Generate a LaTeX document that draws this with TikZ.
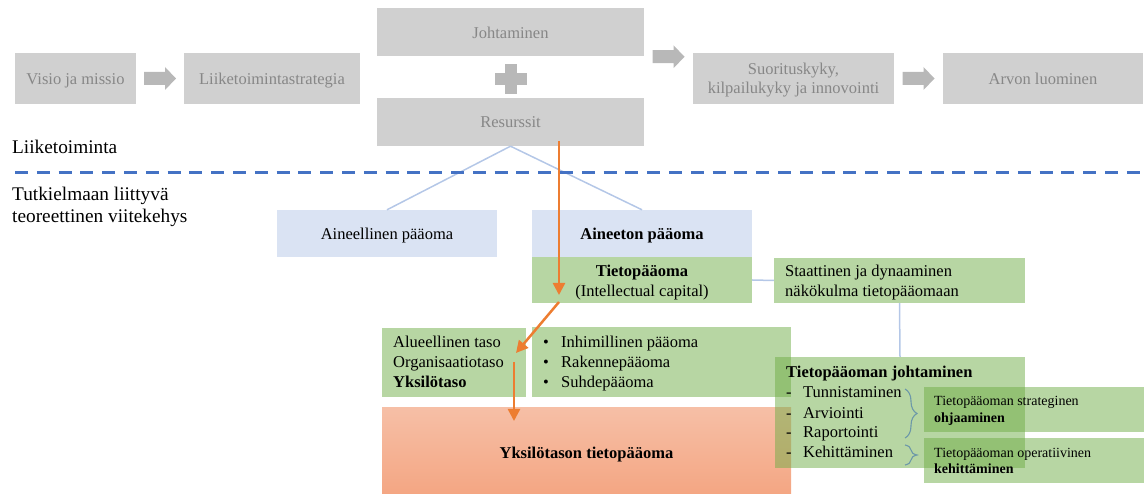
\documentclass[tikz,border=0pt]{standalone}
\usepackage{fontspec}
\setmainfont{Liberation Serif}
\usetikzlibrary{arrows.meta,decorations.pathreplacing,calc}

\definecolor{boxgray}{RGB}{208,208,208}
\definecolor{txtgray}{RGB}{135,135,135}
\definecolor{arrgray}{RGB}{184,184,184}
\definecolor{boxblue}{RGB}{218,227,243}
\definecolor{accgreen}{RGB}{112,173,71}
\definecolor{salmontop}{RGB}{246,191,166}
\definecolor{salmonbot}{RGB}{244,166,131}
\definecolor{accorange}{RGB}{237,125,49}
\definecolor{accblue}{RGB}{68,114,196}
\definecolor{linkblue}{RGB}{180,199,231}
\definecolor{bracecol}{RGB}{108,152,168}

\tikzset{
  blockarrow/.pic={
    \fill[arrgray] (-16,-6.5) -- (5,-6.5) -- (5,-11.5) -- (16,0) -- (5,11.5) -- (5,6.5) -- (-16,6.5) -- cycle;
  },
  plussign/.pic={
    \fill[arrgray] (-16,-6) rectangle (16,6);
    \fill[arrgray] (-6,-15) rectangle (6,15);
  }
}

\begin{document}
\begin{tikzpicture}[x=1pt,y=-1pt,
  box/.style={rectangle, inner sep=0pt, draw=none},
  graybox/.style={box, fill=boxgray},
  bluebox/.style={box, fill=boxblue},
  greenbox/.style={box, fill=accgreen, fill opacity=0.5},
  txt/.style={inner sep=0pt, anchor=base, font=\fontsize{16.5}{20}\selectfont},
  ltxt/.style={txt, anchor=base west},
  graytxt/.style={txt, text=txtgray},
  smalltxt/.style={inner sep=0pt, anchor=base west, font=\fontsize{14}{17}\selectfont},
  sidelabel/.style={inner sep=0pt, anchor=base west, font=\fontsize{19.3}{22}\selectfont},
  link/.style={draw=linkblue, line width=1.5pt},
  orangearrow/.style={draw=accorange, line width=2.5pt, -{Triangle[length=12pt,width=12pt]}},
  sepline/.style={draw=accblue, line width=3pt, dash pattern=on 13pt off 8.8pt},
  bracestyle/.style={draw=bracecol, line width=1.1pt, decorate, decoration={brace, amplitude=12pt}}
]
\useasboundingbox (0,0) rectangle (1144,494);

% --- business level (top row) ---
\node[graybox, minimum width=121, minimum height=51] (visio) at (75.5,78.5) {};
\node[graybox, minimum width=176, minimum height=51] (strat) at (272,78.5) {};
\node[graybox, minimum width=267, minimum height=48] (johto) at (510.5,32) {};
\node[graybox, minimum width=267, minimum height=48] (resurssit) at (510.5,122) {};
\node[graybox, minimum width=201, minimum height=51] (suori) at (793.5,78.5) {};
\node[graybox, minimum width=200, minimum height=51] (arvo) at (1043,78.5) {};

\node[graytxt] (visio-t) at (75.5,85) {Visio ja missio};
\node[graytxt] (strat-t) at (272,85) {Liiketoimintastrategia};
\node[graytxt] (johto-t) at (510.5,39) {Johtaminen};
\node[graytxt] (resurssit-t) at (510.5,128) {Resurssit};
\node[graytxt] (suori-t1) at (793.5,75) {Suorituskyky,};
\node[graytxt] (suori-t2) at (793.5,94) {kilpailukyky ja innovointi};
\node[graytxt] (arvo-t) at (1043,85) {Arvon luominen};

\pic at ($(visio.east)!0.5!(strat.west)$) {blockarrow};
\pic at ($(resurssit.east)!0.5!(suori.west)+(0,-43.5)$) {blockarrow};
\pic at ($(suori.east)!0.5!(arvo.west)$) {blockarrow};
\pic at ($(johto.south)!0.5!(resurssit.north)+(0,2)$) {plussign};

% --- side labels ---
\node[sidelabel] (lbl-top) at (12,154) {Liiketoiminta};
\node[sidelabel] (lbl-bot1) at (12,201) {Tutkielmaan liittyvä};
\node[sidelabel] (lbl-bot2) at (12,223) {teoreettinen viitekehys};

% --- capital boxes ---
\node[bluebox, minimum width=220, minimum height=47] (ain) at (387,233.5) {};
\node[bluebox, minimum width=220, minimum height=47] (aton) at (642,233.5) {};

\draw[link] (resurssit.south) -- (ain.north);
\draw[link] (resurssit.south) -- (aton.north);

% separator between the two levels
\coordinate (sepL) at (15,173);
\coordinate (sepR) at (1144,173);
\draw[sepline] (sepL) -- (sepR);

\node[txt] (ain-t) at (387,240) {Aineellinen pääoma};
\node[txt, font=\fontsize{16.5}{20}\selectfont\bfseries] (aton-t) at (642,240) {Aineeton pääoma};

\node[greenbox, minimum width=220, minimum height=46] (tieto) at (642,280) {};
\node[greenbox, minimum width=251, minimum height=45] (staat) at (899.5,280.5) {};
\draw[link] (tieto.east) -- (staat.west);

\node[txt, font=\fontsize{16.5}{20}\selectfont\bfseries] (tieto-t1) at (642,277) {Tietopääoma};
\node[txt] (tieto-t2) at (642,297) {(Intellectual capital)};
\node[ltxt] (staat-t1) at (785,277) {Staattinen ja dynaaminen};
\node[ltxt] (staat-t2) at (785,297) {näkökulma tietopääomaan};

% levels and components
\node[greenbox, minimum width=144, minimum height=69] (alue) at (454,362.5) {};
\node[greenbox, minimum width=259, minimum height=70] (bull) at (661.5,362) {};
\node[ltxt] (alue-t1) at (393,348) {Alueellinen taso};
\node[ltxt] (alue-t2) at (393,368) {Organisaatiotaso};
\node[ltxt, font=\fontsize{16.5}{20}\selectfont\bfseries] (alue-t3) at (393,388) {Yksilötaso};
\node[ltxt] (b1) at (543,348) {•};
\node[ltxt] (b2) at (543,368) {•};
\node[ltxt] (b3) at (543,388) {•};
\node[ltxt] (bull-t1) at (561,348) {Inhimillinen pääoma};
\node[ltxt] (bull-t2) at (561,368) {Rakennepääoma};
\node[ltxt] (bull-t3) at (561,388) {Suhdepääoma};

\node[box, top color=salmontop, bottom color=salmonbot, minimum width=409, minimum height=86] (yks) at (586.5,451) {};
\node[txt, font=\fontsize{16.5}{20}\selectfont\bfseries] (yks-t) at (586.5,458) {Yksilötason tietopääoma};

% management of intellectual capital
\node[greenbox, minimum width=250, minimum height=111] (tpj) at (900,412.5) {};
\draw[link] (staat.south) -- (tpj.north);
\node[ltxt, font=\fontsize{16.5}{20}\selectfont\bfseries] (tpj-t) at (786,378) {Tietopääoman johtaminen};
\foreach \yy/\word [count=\i] in {398/Tunnistaminen,418/Arviointi,438/Raportointi,457/Kehittäminen}{
  \node[ltxt] (tpj-d\i) at (786,\yy) {-};
  \node[ltxt] (tpj-i\i) at (803,\yy) {\word};
}

\node[greenbox, minimum width=220, minimum height=45] (strg) at (1034,409.5) {};
\node[greenbox, minimum width=220, minimum height=45] (oper) at (1034,460.5) {};
\node[smalltxt] (strg-t1) at (934,406) {Tietopääoman strateginen};
\node[smalltxt, font=\fontsize{14}{17}\selectfont\bfseries] (strg-t2) at (934,422) {ohjaaminen};
\node[smalltxt] (oper-t1) at (934,457) {Tietopääoman operatiivinen};
\node[smalltxt, font=\fontsize{14}{17}\selectfont\bfseries] (oper-t2) at (934,473) {kehittäminen};

\draw[bracestyle] (905,389) -- (905,438);
\draw[bracestyle] (905,445) -- (905,465);

% path of the study focus
\coordinate (o1a) at (559,141);
\coordinate (o1b) at (559,295);
\coordinate (o2a) at (559,302);
\coordinate (o2b) at (516,353);
\coordinate (o3a) at (514,362);
\coordinate (o3b) at (514,421);
\draw[orangearrow] (o1a) -- (o1b);
\draw[orangearrow] (o2a) -- (o2b);
\draw[orangearrow] (o3a) -- (o3b);
\end{tikzpicture}
\end{document}
